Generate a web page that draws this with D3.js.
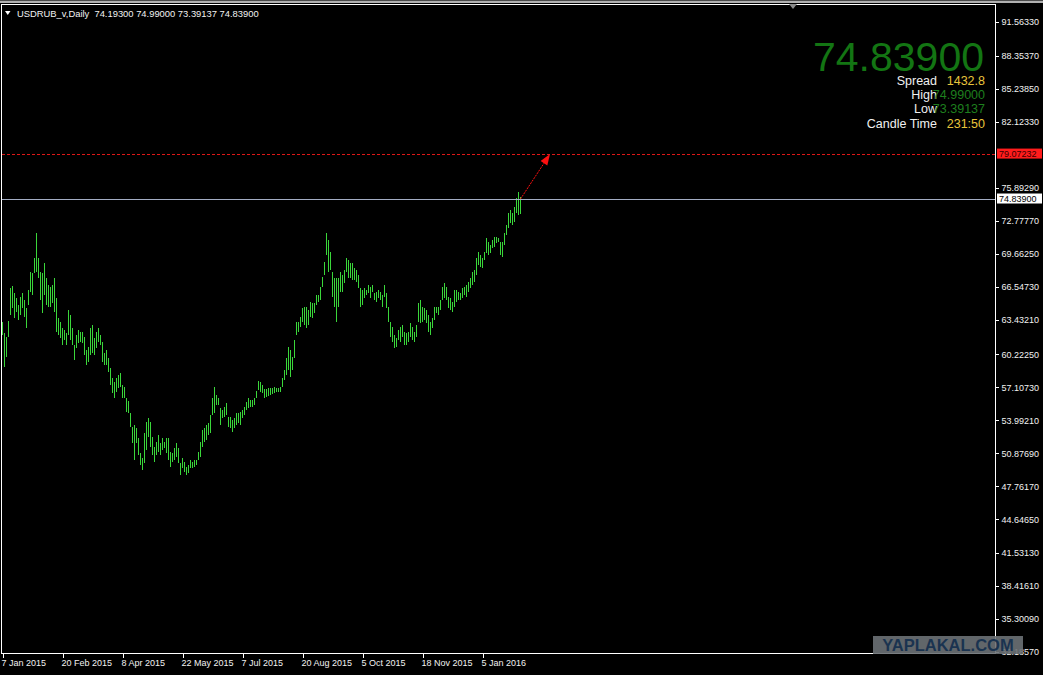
<!DOCTYPE html>
<html>
<head>
<meta charset="utf-8">
<script src="https://cdn.jsdelivr.net/npm/d3@7"></script>
<style>
  html, body { margin: 0; padding: 0; background: #000; }
  svg { display: block; font-family: 'Liberation Sans', Arial, sans-serif; }
  .axis text { fill: #f2f2f2; font-size: 9px; }
  .axis line { stroke: #fff; }
  .axis path { display: none; }
</style>
</head>
<body>
<svg id="chart"></svg>
<script>
// USDRUB daily bars, 7 Jan 2015 .. 5 Jan 2016 (high / low)
const highs = [
  63.26, 62.22, 61.84, 63.36, 66.45, 66.64, 65.98, 65.51, 64.87, 65.60,
  65.98, 65.32, 64.59, 66.26, 67.97, 67.88, 69.30, 71.63, 69.30, 67.97,
  67.88, 68.83, 67.40, 66.74, 66.55, 66.74, 67.40, 65.51, 63.64, 63.26,
  62.69, 62.50, 62.22, 64.40, 63.92, 62.69, 61.08, 62.03, 62.50, 62.31,
  62.31, 61.84, 60.60, 60.89, 62.69, 62.98, 61.74, 62.31, 62.69, 62.03,
  61.36, 60.32, 60.60, 59.88, 58.93, 57.99, 57.61, 57.99, 58.27, 58.46,
  57.32, 57.13, 56.09, 55.80, 54.70, 53.37, 53.56, 53.28, 52.33, 50.90,
  50.43, 52.80, 53.84, 54.22, 53.84, 52.42, 51.47, 51.95, 52.61, 51.85,
  52.33, 51.95, 52.33, 52.33, 51.00, 50.90, 51.38, 51.85, 51.38, 49.96,
  50.43, 50.05, 49.60, 49.79, 50.24, 50.05, 50.24, 50.24, 51.00, 51.95,
  53.09, 53.28, 53.56, 53.75, 54.51, 56.09, 57.13, 56.37, 56.09, 55.14,
  54.98, 55.24, 55.62, 54.32, 54.32, 54.03, 54.22, 54.70, 54.70, 54.79,
  54.98, 55.24, 55.71, 56.09, 55.90, 55.90, 56.09, 56.75, 57.70, 57.61,
  57.32, 56.94, 56.94, 57.04, 57.04, 57.04, 57.13, 57.04, 57.04, 57.13,
  57.99, 58.75, 59.88, 60.89, 60.60, 59.94, 61.55, 63.26, 63.26, 63.73,
  64.59, 64.68, 64.68, 64.40, 65.13, 65.03, 65.03, 65.79, 65.79, 66.55,
  67.50, 68.92, 71.63, 70.97, 69.83, 67.97, 67.40, 67.40, 67.40, 67.97,
  67.69, 68.16, 69.30, 69.11, 68.83, 68.83, 68.35, 68.16, 67.69, 66.45,
  66.26, 66.45, 66.26, 66.74, 66.55, 66.74, 65.98, 66.07, 66.26, 66.07,
  65.79, 66.74, 65.98, 64.68, 63.26, 62.79, 62.03, 61.74, 62.50, 62.79,
  62.98, 62.31, 62.22, 62.31, 63.17, 62.79, 62.31, 62.98, 65.03, 65.32,
  64.68, 64.59, 64.40, 63.92, 63.26, 63.64, 64.68, 64.68, 64.68, 65.32,
  66.55, 66.93, 66.55, 65.60, 65.51, 65.13, 66.26, 66.26, 66.07, 65.98,
  66.45, 66.55, 66.74, 67.02, 67.40, 67.97, 68.16, 69.30, 69.83, 69.59,
  69.30, 69.83, 71.16, 70.78, 70.49, 70.97, 71.25, 71.25, 71.16, 70.78,
  70.78, 71.63, 72.39, 73.53, 73.81, 73.53, 74.10, 74.95, 75.52, 74.99
];
const lows = [
  62.03, 59.03, 59.94, 61.84, 63.92, 64.59, 63.64, 64.21, 63.45, 63.92,
  64.59, 63.73, 62.69, 64.87, 66.07, 65.79, 67.88, 67.97, 67.40, 65.32,
  64.11, 65.79, 64.87, 64.68, 64.68, 65.03, 64.21, 62.31, 62.03, 61.74,
  61.08, 61.55, 61.08, 62.03, 61.55, 61.08, 59.69, 60.79, 61.27, 61.36,
  61.27, 60.13, 59.22, 59.50, 60.13, 60.32, 60.13, 60.79, 61.36, 61.08,
  59.50, 59.22, 59.22, 58.56, 57.32, 56.56, 56.09, 56.66, 57.04, 57.13,
  56.09, 56.09, 54.79, 54.70, 53.37, 51.85, 50.24, 51.85, 50.71, 49.79,
  49.31, 49.96, 51.19, 52.42, 51.47, 50.71, 50.05, 50.71, 51.00, 50.71,
  51.19, 51.38, 50.90, 50.24, 49.60, 50.05, 50.24, 50.52, 49.96, 48.84,
  49.50, 49.12, 48.84, 49.03, 49.50, 49.50, 49.60, 49.79, 50.24, 50.52,
  51.47, 51.95, 52.14, 52.61, 52.80, 54.51, 54.70, 55.43, 55.43, 53.56,
  54.22, 54.32, 54.51, 53.37, 53.28, 52.90, 53.28, 53.56, 53.75, 53.56,
  54.22, 54.51, 54.98, 55.14, 55.24, 55.24, 55.43, 56.09, 56.85, 56.66,
  56.56, 56.09, 56.18, 56.28, 56.37, 56.47, 56.56, 56.66, 56.66, 56.66,
  57.13, 57.80, 58.27, 58.75, 58.08, 58.75, 59.88, 62.03, 62.31, 62.79,
  63.26, 62.98, 62.69, 62.98, 63.73, 63.64, 64.11, 64.87, 65.13, 65.32,
  66.55, 67.69, 69.59, 67.97, 68.16, 65.60, 64.68, 63.26, 64.68, 66.07,
  66.07, 66.93, 67.97, 67.40, 67.40, 67.21, 67.21, 67.02, 66.45, 64.68,
  64.87, 65.51, 65.79, 65.98, 65.51, 66.07, 65.32, 65.13, 65.51, 65.32,
  64.68, 65.60, 64.59, 63.26, 61.84, 61.36, 60.79, 60.89, 61.55, 61.36,
  61.84, 61.08, 61.08, 61.36, 61.84, 61.55, 61.36, 61.84, 63.26, 63.17,
  63.26, 63.45, 63.17, 62.31, 62.03, 62.69, 63.45, 64.11, 63.92, 64.40,
  65.32, 65.51, 65.32, 64.59, 64.40, 64.21, 64.68, 65.13, 65.32, 65.32,
  65.51, 65.79, 65.60, 66.07, 66.45, 66.74, 67.02, 67.69, 68.64, 68.45,
  68.35, 69.11, 69.74, 69.59, 69.74, 70.21, 70.30, 70.68, 70.78, 69.59,
  69.40, 70.49, 71.44, 72.11, 72.58, 72.39, 72.68, 73.53, 73.34, 73.39137
];

const symbol = 'USDRUB_v,Daily';
const lastOHLC = [74.19300, 74.99000, 73.39137, 74.83900];
const lastPrice = 74.83900;
const spread = '1432.8';
const candleTime = '231:50';
const targetPrice = 79.07232;
const targetBar = 274;

const dateTickBars = [0, 30, 60, 90, 120, 150, 180, 210, 240];
const dateLabels = ['7 Jan 2015', '20 Feb 2015', '8 Apr 2015', '22 May 2015', '7 Jul 2015',
  '20 Aug 2015', '5 Oct 2015', '18 Nov 2015', '5 Jan 2016'];
const priceTicks = [91.56330, 88.35370, 85.23850, 82.12330, 75.89290, 72.77770, 69.66250,
  66.54730, 63.43210, 60.22250, 57.10730, 53.99210, 50.87690, 47.76170, 44.64650,
  41.53130, 38.41610, 35.30090, 32.18570];

const W = 1043, H = 675;
const frame = { left: 1.5, top: 4.5, right: 995.5, bottom: 653.5 };

const svg = d3.select('#chart').attr('width', W).attr('height', H);
svg.append('rect').attr('width', W).attr('height', H).attr('fill', '#000');

// window strip at the very top
svg.append('rect').attr('x', 0).attr('y', 0).attr('width', W).attr('height', 1).attr('fill', '#4a4a4a');
svg.append('rect').attr('x', 0).attr('y', 1).attr('width', W).attr('height', 2).attr('fill', '#b0b0b0');

// scales: 2px per bar, price axis as on the terminal
const bars = highs.map((h, i) => ({ i, high: h, low: lows[i] }));
const x = d3.scaleLinear()
  .domain([0, bars.length - 1])
  .range([2, 2 + 2 * (bars.length - 1)]);
const y = d3.scaleLinear()
  .domain([32.18570, 82.12330])
  .range([651.7, 121.7]);

const plot = svg.append('g');

// high-low bars
plot.selectAll('.bar')
  .data(bars)
  .join('line')
  .attr('class', 'bar')
  .attr('x1', d => Math.round(x(d.i)) + 0.5)
  .attr('x2', d => Math.round(x(d.i)) + 0.5)
  .attr('y1', d => y(d.high))
  .attr('y2', d => y(d.low))
  .attr('stroke', '#3ad63a')
  .attr('stroke-width', 1)
  .attr('shape-rendering', 'crispEdges');

// target level (red dashed) and last price line
plot.append('line')
  .attr('x1', frame.left).attr('x2', frame.right)
  .attr('y1', Math.round(y(targetPrice)) + 0.5).attr('y2', Math.round(y(targetPrice)) + 0.5)
  .attr('stroke', '#e01818').attr('stroke-dasharray', '3,2')
  .attr('shape-rendering', 'crispEdges');
plot.append('line')
  .attr('x1', frame.left).attr('x2', frame.right)
  .attr('y1', Math.round(y(lastPrice)) + 0.5).attr('y2', Math.round(y(lastPrice)) + 0.5)
  .attr('stroke', '#a3adc4')
  .attr('shape-rendering', 'crispEdges');

// arrow from last close to the target level
const ax0 = x(bars.length - 1) + 0.5, ay0 = y(lastPrice);
const ax1 = x(targetBar), ay1 = y(targetPrice);
const ang = Math.atan2(ay1 - ay0, ax1 - ax0);
const headLen = 11, headW = 4;
const bx = ax1 - headLen * Math.cos(ang), by = ay1 - headLen * Math.sin(ang);
plot.append('line')
  .attr('x1', ax0).attr('y1', ay0).attr('x2', bx).attr('y2', by)
  .attr('stroke', '#ff1010').attr('stroke-width', 1).attr('stroke-dasharray', '2,1');
plot.append('path')
  .attr('d', `M${ax1},${ay1}L${bx + headW * Math.sin(ang)},${by - headW * Math.cos(ang)}` +
    `L${bx - headW * Math.sin(ang)},${by + headW * Math.cos(ang)}Z`)
  .attr('fill', '#ff1010');

// frame
svg.append('rect')
  .attr('x', frame.left).attr('y', frame.top)
  .attr('width', frame.right - frame.left).attr('height', frame.bottom - frame.top)
  .attr('fill', 'none').attr('stroke', '#fff')
  .attr('shape-rendering', 'crispEdges');

// chart shift marker
svg.append('path')
  .attr('d', 'M789,4L797,4L793,9Z')
  .attr('fill', '#8a8a8a');

// price axis
const yAxis = d3.axisRight(y)
  .tickValues(priceTicks)
  .tickFormat(d3.format('.5f'))
  .tickSize(3)
  .tickPadding(3);
const yAxisG = svg.append('g')
  .attr('class', 'axis')
  .attr('transform', `translate(${frame.right},0)`)
  .call(yAxis);
yAxisG.selectAll('line').attr('shape-rendering', 'crispEdges');

// time axis
const xAxis = d3.axisBottom(x)
  .tickValues(dateTickBars)
  .tickFormat((d, i) => dateLabels[i])
  .tickSize(4);
const xAxisG = svg.append('g')
  .attr('class', 'axis')
  .attr('transform', `translate(0.5,${frame.bottom})`)
  .call(xAxis);
xAxisG.selectAll('line').attr('shape-rendering', 'crispEdges');
xAxisG.selectAll('text')
  .attr('text-anchor', 'start')
  .attr('x', -1.5)
  .attr('y', 6);

// price labels on the axis
function priceTag(price, bg, fg) {
  const yy = y(price);
  svg.append('rect')
    .attr('x', 997).attr('y', yy - 5.5).attr('width', 45).attr('height', 10)
    .attr('fill', bg);
  svg.append('text')
    .attr('x', 999).attr('y', yy).attr('dy', '0.34em')
    .attr('font-size', '9px').attr('fill', fg)
    .text(d3.format('.5f')(price));
}
priceTag(targetPrice, '#ff1c1c', '#3a0000');
priceTag(lastPrice, '#ffffff', '#000000');

// header
svg.append('path').attr('d', 'M5,11L10.5,11L7.75,15Z').attr('fill', '#fff');
svg.append('text')
  .attr('x', 17).attr('y', 16.5)
  .attr('font-size', '9.4px').attr('fill', '#f2f2f2')
  .attr('xml:space', 'preserve')
  .style('white-space', 'pre')
  .text(`${symbol}  ${lastOHLC.map(d3.format('.5f')).join(' ')}`);

// info panel
svg.append('text')
  .attr('x', 984).attr('y', 70.5)
  .attr('text-anchor', 'end')
  .attr('font-size', '41px').attr('fill', '#137513')
  .text(d3.format('.5f')(lastPrice));

const infoRows = [
  { label: 'Spread', value: spread, color: '#e8c43c', y: 85 },
  { label: 'High', value: d3.format('.5f')(lastOHLC[1]), color: '#1e7f1e', y: 99 },
  { label: 'Low', value: d3.format('.5f')(lastOHLC[2]), color: '#1e7f1e', y: 113 },
  { label: 'Candle Time', value: candleTime, color: '#e8c43c', y: 127.5 }
];
const info = svg.append('g').attr('font-size', '12.5px');
info.selectAll('.lbl').data(infoRows).join('text')
  .attr('class', 'lbl')
  .attr('x', 937).attr('y', d => d.y)
  .attr('text-anchor', 'end').attr('fill', '#f0f0f0')
  .text(d => d.label);
info.selectAll('.val').data(infoRows).join('text')
  .attr('class', 'val')
  .attr('x', 985).attr('y', d => d.y)
  .attr('text-anchor', 'end').attr('fill', d => d.color)
  .text(d => d.value);

// watermark
svg.append('rect')
  .attr('x', 873).attr('y', 636).attr('width', 150).attr('height', 18)
  .attr('fill', '#6c7176').attr('opacity', 0.9);
svg.append('text')
  .attr('x', 948).attr('y', 650.5)
  .attr('text-anchor', 'middle')
  .attr('font-size', '16.5px').attr('font-weight', 'bold')
  .attr('fill', '#1a3350')
  .text('YAPLAKAL.COM');
</script>
</body>
</html>
